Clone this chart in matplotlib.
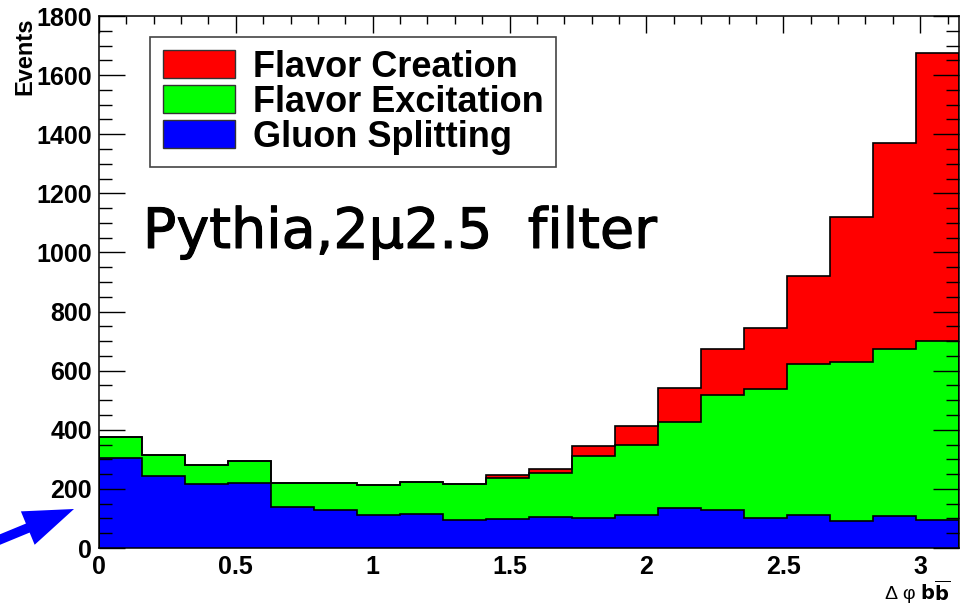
import numpy as np
import matplotlib
matplotlib.use("Agg")
import matplotlib.pyplot as plt
import matplotlib.patheffects as pe
from matplotlib.patches import Patch, FancyArrowPatch, ArrowStyle
from matplotlib.ticker import MultipleLocator

plt.rcParams['font.family'] = ['Liberation Sans', 'DejaVu Sans']

# 20 bins of delta-phi between the two b jets, 0..pi
bin_edges = np.linspace(0, np.pi, 21)
gluon_splitting = [303, 245, 215, 220, 139, 127, 110, 116, 95, 98,
                   105, 100, 112, 134, 129, 100, 112, 92, 109, 95]
flavor_excitation = [73, 70, 67, 73, 82, 92, 103, 106, 123, 139,
                     150, 212, 238, 293, 390, 438, 509, 537, 566, 604]
flavor_creation = [0, 0, 0, 0, 0, 0, 0, 0, 0, 9,
                   12, 34, 63, 113, 154, 206, 299, 491, 696, 976]
labels = ["Flavor Creation", "Flavor Excitation", "Gluon Splitting"]
colors = ["#ff0000", "#00ff00", "#0000ff"]

gs = np.array(gluon_splitting)
fe = gs + np.array(flavor_excitation)
fc = fe + np.array(flavor_creation)

fig = plt.figure(figsize=(9.68, 6.06), dpi=100)
ax = fig.add_axes([99 / 968, 1 - 548 / 606, 860 / 968, 532 / 606])

# stacked histogram, tallest first so the lower layers sit on top
for vals, c in zip([fc, fe, gs], colors):
    ax.stairs(vals, bin_edges, fill=True, color=c, zorder=1)
    ax.stairs(vals, bin_edges, color="black", lw=1.2, zorder=2)

ax.set_xlim(0, np.pi)
ax.set_ylim(0, 1800)
ax.xaxis.set_major_locator(MultipleLocator(0.5))
ax.xaxis.set_minor_locator(MultipleLocator(0.1))
ax.yaxis.set_major_locator(MultipleLocator(200))
ax.yaxis.set_minor_locator(MultipleLocator(50))
ax.xaxis.set_major_formatter(lambda v, p: f"{v:g}")

ax.tick_params(axis="y", which="major", direction="in", left=True, right=True,
               length=18.5, width=1.0, pad=5, labelsize=18)
ax.tick_params(axis="y", which="minor", direction="in", left=True, right=True,
               length=9.5, width=1.0)
ax.tick_params(axis="x", which="major", direction="in", bottom=False, top=True,
               length=12, width=1.0, pad=5, labelsize=18)
ax.tick_params(axis="x", which="minor", direction="in", bottom=False, top=True,
               length=6, width=1.0)
for lab in ax.get_xticklabels() + ax.get_yticklabels():
    lab.set_fontweight("bold")
for sp in ax.spines.values():
    sp.set_linewidth(1.1)
    sp.set_zorder(5)
ax.set_axisbelow(False)

ax.text(-0.086, 0.998, "Events", transform=ax.transAxes, rotation=90,
        ha="center", va="top", fontsize=17, fontweight="bold")
ax.text(0.9895, -0.083, "\u0394 \u03c6 " + r"$\mathbf{b\overline{b}}$",
        transform=ax.transAxes, ha="right", va="center", fontsize=14)

handles = [Patch(facecolor=c, edgecolor="#333333", lw=1.0) for c in colors]
leg = ax.legend(handles, labels, loc="upper left",
                bbox_to_anchor=(0.0593, 0.9605), borderaxespad=0,
                fancybox=False, framealpha=1, edgecolor="#444444",
                prop={"weight": "bold", "size": 26},
                handlelength=2.0, handleheight=0.8, handletextpad=0.5,
                labelspacing=0.0, borderpad=0.35)
leg.get_frame().set_linewidth(1.2)
leg.set_zorder(6)

ax.text(0.051, 0.564, "Pythia,2\u03bc2.5  filter", transform=ax.transAxes,
        ha="left", va="baseline", fontsize=40, family="DejaVu Sans",
        path_effects=[pe.withStroke(linewidth=0.8, foreground="black")])

# arrow pointing at the low end of the spectrum
arrow = FancyArrowPatch((-6, 64), (74, 97), transform=None,
                        arrowstyle=ArrowStyle.Simple(head_length=36, head_width=26,
                                                     tail_width=7),
                        mutation_scale=1, shrinkA=0, shrinkB=0,
                        color="#0000ff", lw=0)
fig.add_artist(arrow)

fig.savefig("out.png", dpi=100)
